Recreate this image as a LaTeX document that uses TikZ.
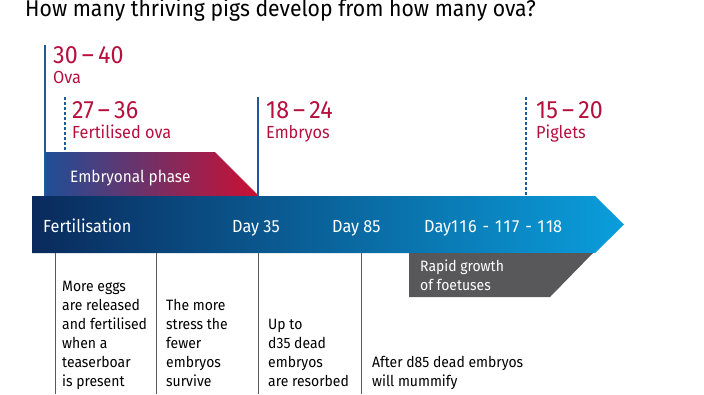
\documentclass[tikz,border=0pt]{standalone}
\usepackage{fontspec}
\setmainfont{Fira Sans}[FakeStretch=0.93]
\definecolor{crimson}{HTML}{B5103E}
\definecolor{lineblue}{HTML}{1D5A96}
\definecolor{navy}{HTML}{0A2A5C}
\definecolor{midblue}{HTML}{1463AE}
\definecolor{skyblue}{HTML}{0A9EDC}
\definecolor{phaseblue}{HTML}{1F4F98}
\definecolor{phasered}{HTML}{CC0F32}
\definecolor{greybox}{HTML}{58585A}
\definecolor{greyline}{HTML}{5A5A5A}
\begin{document}
\begin{tikzpicture}[x=1pt,y=-1pt,
  num/.style={anchor=base west,inner sep=0pt,text=crimson,font=\fontsize{25}{25}\selectfont},
  lab/.style={anchor=base west,inner sep=0pt,text=crimson,font=\fontsize{17.5}{18}\selectfont},
  axl/.style={anchor=base west,inner sep=0pt,text=white,font=\fontsize{17.5}{18}\selectfont},
  body/.style={anchor=base west,inner sep=0pt,text=black,font=\fontsize{15}{19}\selectfont,align=left},
  solidmark/.style={draw=lineblue,line width=1.4pt},
  dashmark/.style={draw=lineblue,line width=1.4pt,dash pattern=on 3pt off 2pt},
  sep/.style={draw=greyline,line width=0.8pt}]
\useasboundingbox (0,0) rectangle (704,394);
% title
\node[anchor=base west,inner sep=0pt,font=\fontsize{22.8}{23}\selectfont] (title) at (25,16) {How many thriving pigs develop from how many ova?};
% embryonal phase band
\shade[left color=phaseblue,right color=phasered] (44,152) -- (215,152) -- (259,196) -- (44,196) -- cycle;
\node[axl,font=\fontsize{16.5}{17}\selectfont] (phase) at (70,182) {Embryonal phase};
% main arrow
\shade[left color=navy,middle color=midblue,right color=skyblue] (32,196) -- (595,196) -- (624,224.5) -- (595,253) -- (32,253) -- cycle;
% markers
\coordinate (ovaT) at (45,45);
\coordinate (ovaB) at (45,196);
\coordinate (ferT) at (65,97);
\coordinate (ferB) at (65,152);
\coordinate (embT) at (258,97);
\coordinate (embB) at (258,196);
\coordinate (pigT) at (526,97);
\coordinate (pigB) at (526,196);
\draw[solidmark] (ovaT) -- (ovaB);
\draw[dashmark] (ferT) -- (ferB);
\draw[solidmark] (embT) -- (embB);
\draw[dashmark] (pigT) -- (pigB);
\node[num] (n1) at (53,63) {30\,–\,40};
\node[lab] (l1) at (53,83) {Ova};
\node[num] (n2) at (72,118) {27\,–\,36};
\node[lab] (l2) at (72,138) {Fertilised ova};
\node[num] (n3) at (266,118) {18\,–\,24};
\node[lab] (l3) at (266,138) {Embryos};
\node[num] (n4) at (536,118) {15\,–\,20};
\node[lab] (l4) at (536,138) {Piglets};
% axis labels
\node[axl] (fert) at (43,232) {Fertilisation};
\node[axl] (d35) at (232,232) {Day 35};
\node[axl] (d85) at (332,232) {Day 85};
\node[axl] (d116) at (424,232) {Day{\addfontfeatures{LetterSpace=9}116 - 117 - 11}8};
% grey box
\fill[greybox] (409,253) -- (593,253) -- (550,297) -- (409,297) -- cycle;
\node[body,text=white] (rapid) at (420,290) {Rapid growth\\of foetuses};
% separators
\coordinate (s1T) at (55,253); \coordinate (s1B) at (55,394);
\coordinate (s2T) at (156,253); \coordinate (s2B) at (156,394);
\coordinate (s3T) at (258,253); \coordinate (s3B) at (258,394);
\coordinate (s4T) at (361,253); \coordinate (s4B) at (361,394);
\draw[sep] (s1T) -- (s1B);
\draw[sep] (s2T) -- (s2B);
\draw[sep] (s3T) -- (s3B);
\draw[sep] (s4T) -- (s4B);
% body texts (anchored at the baseline of the last line)
\node[body] (c1) at (62,386) {More eggs\\are released\\and fertilised\\when a\\teaserboar\\is present};
\node[body] (c2) at (166,386) {The more\\stress the\\fewer\\embryos\\survive};
\node[body] (c3) at (268,386) {Up to\\d35 dead\\embryos\\are resorbed};
\node[body] (c4) at (372,386) {After d85 dead embryos\\will mummify};
\end{tikzpicture}
\end{document}
